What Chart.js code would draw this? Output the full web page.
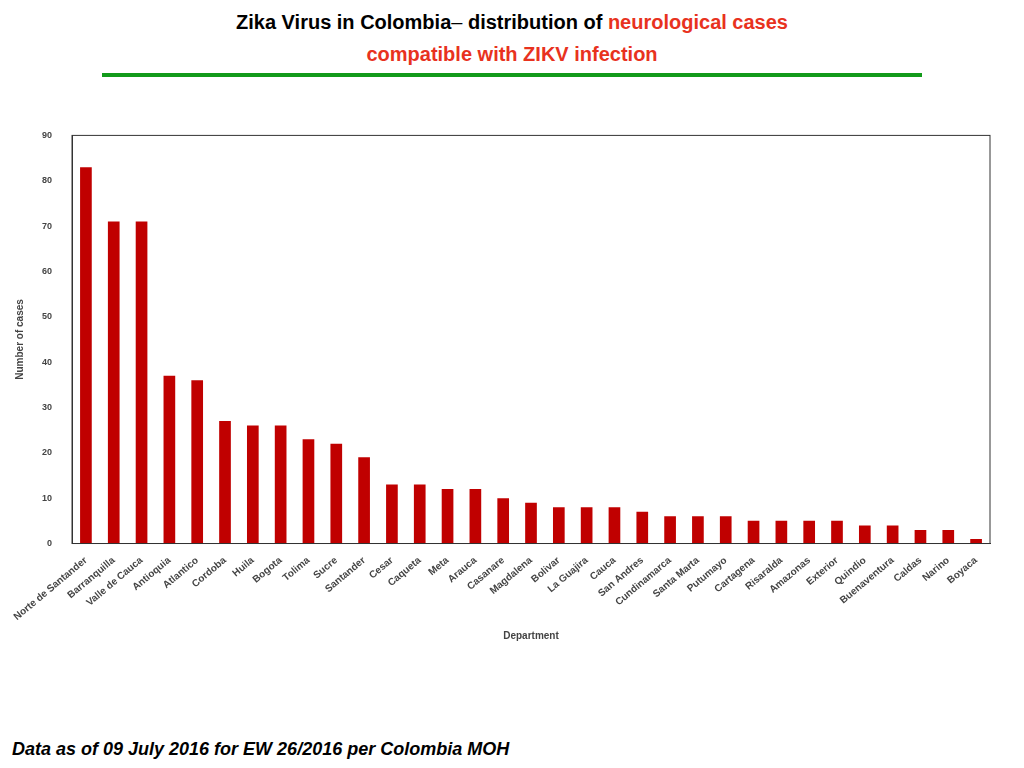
<!DOCTYPE html>
<html><head><meta charset="utf-8">
<script src="https://cdn.jsdelivr.net/npm/chart.js@4/dist/chart.umd.min.js"></script>
<style>
body{margin:0;width:1024px;height:768px;background:#fff;font-family:"Liberation Sans",Arial,sans-serif;position:relative;overflow:hidden}
#t{position:absolute;top:6px;left:0;width:1024px;text-align:center;font-weight:bold;font-size:20px;line-height:32px}
#line{position:absolute;top:73px;left:102px;width:820px;height:4px;background:#129a1a}
#c{position:absolute;left:0;top:118px;width:1024px;height:528px}
#f{position:absolute;left:12px;top:739px;font-weight:bold;font-style:italic;font-size:18px}
</style></head><body>
<div id="t">Zika Virus in Colombia<span style="font-weight:normal">–</span> distribution of <span style="color:#e8321e">neurological cases</span><br><span style="color:#e8321e">compatible with ZIKV infection</span></div>
<div id="line"></div>
<div id="c"><canvas id="cv"></canvas></div>
<div id="f">Data as of 09 July 2016 for EW 26/2016 per Colombia MOH</div>
<script>
const departments=["Norte de Santander","Barranquilla","Valle de Cauca","Antioquia","Atlantico","Cordoba","Huila","Bogota","Tolima","Sucre","Santander","Cesar","Caqueta","Meta","Arauca","Casanare","Magdalena","Bolivar","La Guajira","Cauca","San Andres","Cundinamarca","Santa Marta","Putumayo","Cartagena","Risaralda","Amazonas","Exterior","Quindio","Buenaventura","Caldas","Narino","Boyaca"];
const cases=[83,71,71,37,36,27,26,26,23,22,19,13,13,12,12,10,9,8,8,8,7,6,6,6,5,5,5,5,4,4,3,3,1];
new Chart(document.getElementById('cv'),{type:'bar',
data:{labels:departments,datasets:[{data:cases,backgroundColor:'#c00000',barPercentage:0.42,categoryPercentage:1}]},
options:{responsive:true,maintainAspectRatio:false,animation:false,
layout:{padding:{right:34,top:6,left:10}},
plugins:{legend:{display:false},tooltip:{enabled:false}},
scales:{
x:{grid:{display:false},border:{color:'#333'},ticks:{color:'#444',font:{size:10,weight:'bold'},maxRotation:40,minRotation:40,autoSkip:false},
 title:{display:true,text:'Department',color:'#444',font:{size:10,weight:'bold'}}},
y:{min:0,max:90,ticks:{stepSize:10,color:'#444',font:{size:9,weight:'bold'},padding:12},grid:{display:false},border:{color:'#333'},
 title:{display:true,text:'Number of cases',color:'#444',font:{size:10,weight:'bold'}}}
}},
plugins:[{id:'frame',afterDraw(c){const a=c.chartArea,x=c.ctx;x.save();x.strokeStyle='#333';x.lineWidth=1;x.strokeRect(a.left,a.top,a.right-a.left,a.bottom-a.top);x.restore();}}]
});
</script></body></html>
